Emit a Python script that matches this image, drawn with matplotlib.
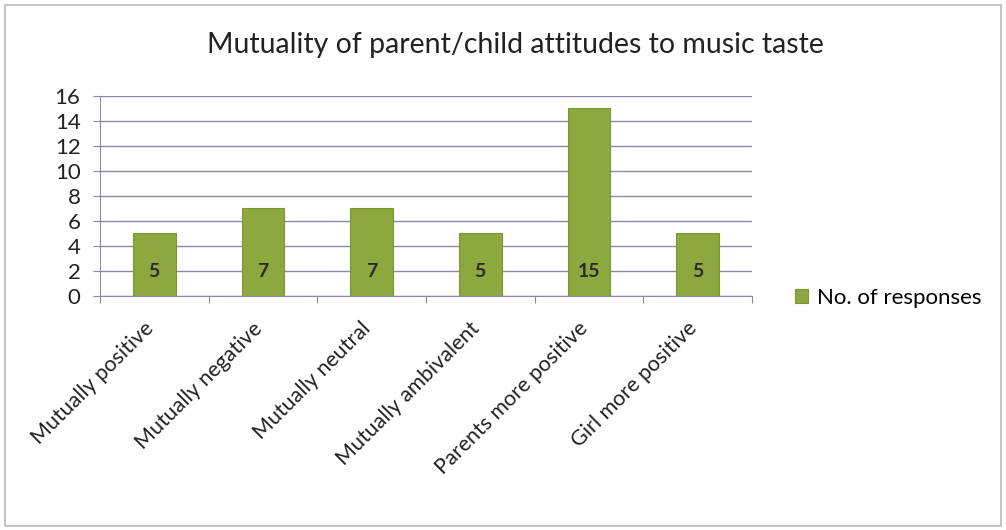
import matplotlib
matplotlib.use("Agg")
import matplotlib.pyplot as plt
from matplotlib.patches import Rectangle

categories = ["Mutually positive", "Mutually negative", "Mutually neutral",
              "Mutually ambivalent", "Parents more positive", "Girl more positive"]
values = [5, 7, 7, 5, 15, 5]
series_name = "No. of responses"
title = "Mutuality of parent/child attitudes to music taste"

plt.rcParams['font.family'] = ['Lato', 'DejaVu Sans']

fig = plt.figure(figsize=(10.06, 5.3), dpi=100)
fig.patches.append(Rectangle((0.005, 0.008), 0.99, 0.982, transform=fig.transFigure,
                             fill=False, edgecolor='#b8b8b8', linewidth=1.2))
ax = fig.add_axes([0.0994, 0.4415, 0.6481, 0.3774])

x = list(range(len(categories)))
bars = ax.bar(x, values, width=0.39, color='#8da83e', edgecolor='#7a9535',
              linewidth=0.8, label=series_name, zorder=3)
for xi, v in zip(x, values):
    ax.text(xi, 2, str(v), ha='center', va='center', fontsize=14,
            color='#2a2a2a', fontweight='bold', zorder=4)

ax.set_xlim(-0.5, len(categories) - 0.5)
ax.set_ylim(0, 16)
ax.set_yticks(range(0, 17, 2))
ax.yaxis.grid(True, color='#8a88a8', linewidth=1.0, zorder=0)
ax.set_axisbelow(True)
for s in ['top', 'right']:
    ax.spines[s].set_visible(False)
ax.spines['left'].set_color('#8a88a8')
ax.spines['bottom'].set_color('#8a88a8')
ax.tick_params(axis='y', length=5, colors='#8a88a8', labelcolor='#222222',
               labelsize=16, pad=9)

ax.set_xticks([i - 0.5 for i in range(len(categories) + 1)])
ax.set_xticklabels([])
ax.tick_params(axis='x', length=5, color='#8a88a8', direction='out')
for xi, c in zip(x, categories):
    ax.annotate(c, xy=(xi - 0.1, 0), xycoords=('data', 'axes fraction'),
                xytext=(0, -16), textcoords='offset points',
                rotation=45, ha='right', va='top', fontsize=15.5, color='#222222',
                rotation_mode='anchor')

fig.text(0.512, 0.915, title, ha='center', va='center', fontsize=20.5, color='#222222')

ax.legend(loc='center left', bbox_to_anchor=(1.035, -0.01), frameon=False,
          fontsize=16, handlelength=0.6, handleheight=0.6, handletextpad=0.4)

fig.savefig("out.png", dpi=100)
